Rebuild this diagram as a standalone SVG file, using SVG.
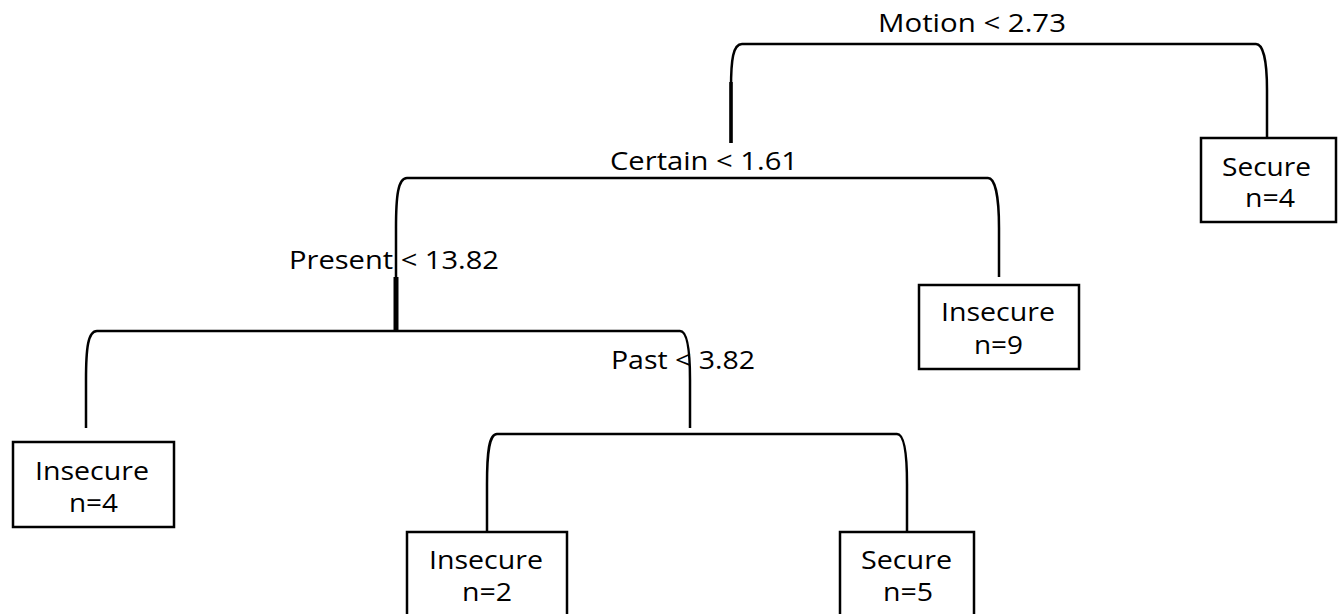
<svg xmlns="http://www.w3.org/2000/svg" width="1341" height="614" viewBox="0 0 1341 614">
<style>
text{font-family:"Open Sans","Liberation Sans",sans-serif;font-size:25px;fill:#000}
.box{fill:#fff;stroke:#000;stroke-width:2.5}
.c{fill:none;stroke:#000;stroke-width:2.5}
.thick{fill:none;stroke:#000;stroke-width:5}
</style>
<rect width="1341" height="614" fill="#fff"/>
<g id="connectors">
<path class="c" d="M731,143 L731,88 C731,60 733,44 742,44 L1256,44 C1263,44 1267,60 1267,90 L1267,142"/>
<line class="thick" x1="731" y1="82" x2="731" y2="143" style="stroke-width:3.5"/>
<path class="c" d="M396,277 L396,228 C396,196 398,178 407,178 L988,178 C995,178 999,196 999,228 L999,277"/>
<line class="thick" x1="396" y1="277" x2="396" y2="332"/>
<path class="c" d="M86,428 L86,380 C86,348 88,331 97,331 L680,331 C687,331 690,348 690,380 L690,428"/>
<path class="c" d="M487,532 L487,484 C487,452 489,434 497,434 L897,434 C904,434 907,452 907,484 L907,532"/>
</g>
<g id="split-motion"><text x="878" y="32" textLength="188" lengthAdjust="spacingAndGlyphs">Motion &lt; 2.73</text></g>
<g id="split-certain"><text x="610" y="170" textLength="188" lengthAdjust="spacingAndGlyphs">Certain &lt; 1.61</text></g>
<g id="split-present"><text x="289" y="269" textLength="210" lengthAdjust="spacingAndGlyphs">Present &lt; 13.82</text></g>
<g id="split-past"><text x="611" y="369" textLength="144" lengthAdjust="spacingAndGlyphs">Past &lt; 3.82</text></g>
<g id="leaf-secure-4">
<rect class="box" x="1201" y="138" width="135" height="84"/>
<text x="1222" y="176" textLength="89" lengthAdjust="spacingAndGlyphs">Secure</text>
<text x="1245" y="207" textLength="50" lengthAdjust="spacingAndGlyphs">n=4</text>
</g>
<g id="leaf-insecure-9">
<rect class="box" x="919" y="285" width="160" height="84"/>
<text x="941" y="321" textLength="114" lengthAdjust="spacingAndGlyphs">Insecure</text>
<text x="974" y="354" textLength="49" lengthAdjust="spacingAndGlyphs">n=9</text>
</g>
<g id="leaf-insecure-4">
<rect class="box" x="13" y="442" width="161" height="85"/>
<text x="35" y="480" textLength="114" lengthAdjust="spacingAndGlyphs">Insecure</text>
<text x="69" y="512" textLength="49" lengthAdjust="spacingAndGlyphs">n=4</text>
</g>
<g id="leaf-insecure-2">
<rect class="box" x="407" y="532" width="160" height="90"/>
<text x="429" y="569" textLength="114" lengthAdjust="spacingAndGlyphs">Insecure</text>
<text x="462" y="601" textLength="50" lengthAdjust="spacingAndGlyphs">n=2</text>
</g>
<g id="leaf-secure-5">
<rect class="box" x="840" y="532" width="134" height="90"/>
<text x="861" y="569" textLength="91" lengthAdjust="spacingAndGlyphs">Secure</text>
<text x="883" y="601" textLength="50" lengthAdjust="spacingAndGlyphs">n=5</text>
</g>
</svg>
